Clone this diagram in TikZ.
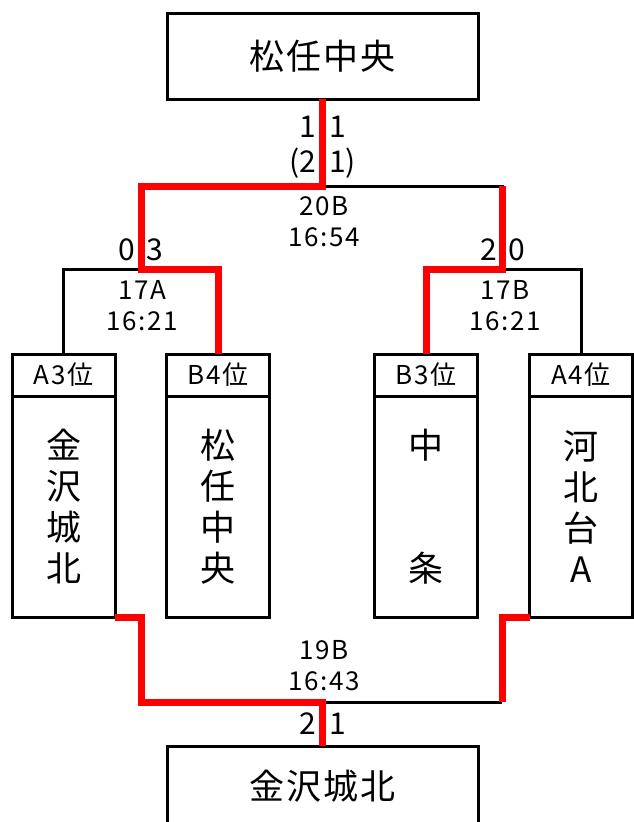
\documentclass[tikz,border=0pt]{standalone}
\usepackage{fontspec}
\setmainfont{Noto Sans CJK JP}
\newfontfamily\spacedjp[LetterSpace=6]{Noto Sans CJK JP}
\usetikzlibrary{calc}
\tikzstyle{result} = [rectangle, minimum width=311pt, minimum height=86pt, draw=black, line width=3pt, outer sep=0pt, font=\spacedjp\fontsize{35}{40}\selectfont]
\tikzstyle{rank} = [rectangle, minimum width=103pt, minimum height=42pt, inner sep=0pt, draw=black, line width=3pt, outer sep=0pt, font=\spacedjp\fontsize{26}{30}\selectfont]
\tikzstyle{team} = [rectangle, minimum width=103pt, minimum height=221pt, align=center, draw=black, line width=3pt, outer sep=0pt, font=\fontsize{35}{41}\selectfont]
\tikzstyle{score} = [inner sep=0pt, font=\fontsize{30}{34}\selectfont]
\tikzstyle{match} = [align=center, inner sep=0pt, font=\spacedjp\fontsize{26}{31}\selectfont]
\tikzstyle{plain} = [line width=3pt]
\tikzstyle{win} = [line width=7pt, color=red]

\begin{document}
\begin{tikzpicture}[x=1pt,y=-1pt]
    \useasboundingbox (0,0) rectangle (633,822);

    \node (final) [result] at (322.5,56) {松任中央};
    \node (hA3) [rank] at (63.5,375) {A3位};
    \node (hB4) [rank, right of=hA3, node distance=154.5pt] {B4位};
    \node (hB3) [rank, right of=hB4, node distance=208pt] {B3位};
    \node (hA4) [rank, right of=hB3, node distance=155pt] {A4位};
    \node (bA3) [team, below of=hA3, node distance=131.5pt] {金\\沢\\城\\北};
    \node (bB4) [team, below of=hB4, node distance=131.5pt] {松\\任\\中\\央};
    \node (bB3) [team, below of=hB3, node distance=131.5pt] {中\\ \\ \\条};
    \node (bA4) [team, below of=hA4, node distance=131.5pt] {河\\北\\台\\A};
    \node (champ) [result, minimum height=80pt] at (322.5,786) {金沢城北};

    \coordinate (m20b) at (322.5,186);
    \coordinate (m17a) at (141,269);
    \coordinate (m17b) at (502,269);
    \coordinate (m19b) at (322.5,702);

        % bracket lines, winners in red
    \draw [plain] (hA3.north) |- (m17a);
    \draw [plain] (m17b) -| (hA4.north);
    \draw [plain] (m20b) -| (m17b);
    \draw [plain] (m19b) -- (m19b -| m17b);
    \draw [win] (final.south) -- (m20b) -| (m17a) -| (hB4.north);
    \draw [win] (m20b -| m17b) -- (m17b) -| (hB3.north);
    \draw [win] (bA3.south east) -| (m19b -| m17a) -- (m19b) -- (champ.north);
    \draw [win] (bA4.south west) -| (m19b -| m17b);

    \node (s20l) [score, anchor=east] at (316,127) {1};
    \node (s20r) [score, anchor=west] at (329,127) {1};
    \node (p20l) [score, anchor=east] at (316,163) {(2};
    \node (p20r) [score, anchor=west] at (329,163) {1)};
    \node (s17al) [score, anchor=east] at (135,250) {0};
    \node (s17ar) [score, anchor=west] at (146,250) {3};
    \node (s17bl) [score, anchor=east] at (497,250) {2};
    \node (s17br) [score, anchor=west] at (508,250) {0};
    \node (s19bl) [score, anchor=east] at (316,724) {2};
    \node (s19br) [score, anchor=west] at (329,724) {1};

    \node (t20b) [match] at (324,222) {20B\\16:54};
    \node (t17a) [match] at (142,306) {17A\\16:21};
    \node (t17b) [match] at (505,306) {17B\\16:21};
    \node (t19b) [match] at (324,666) {19B\\16:43};
\end{tikzpicture}
\end{document}
